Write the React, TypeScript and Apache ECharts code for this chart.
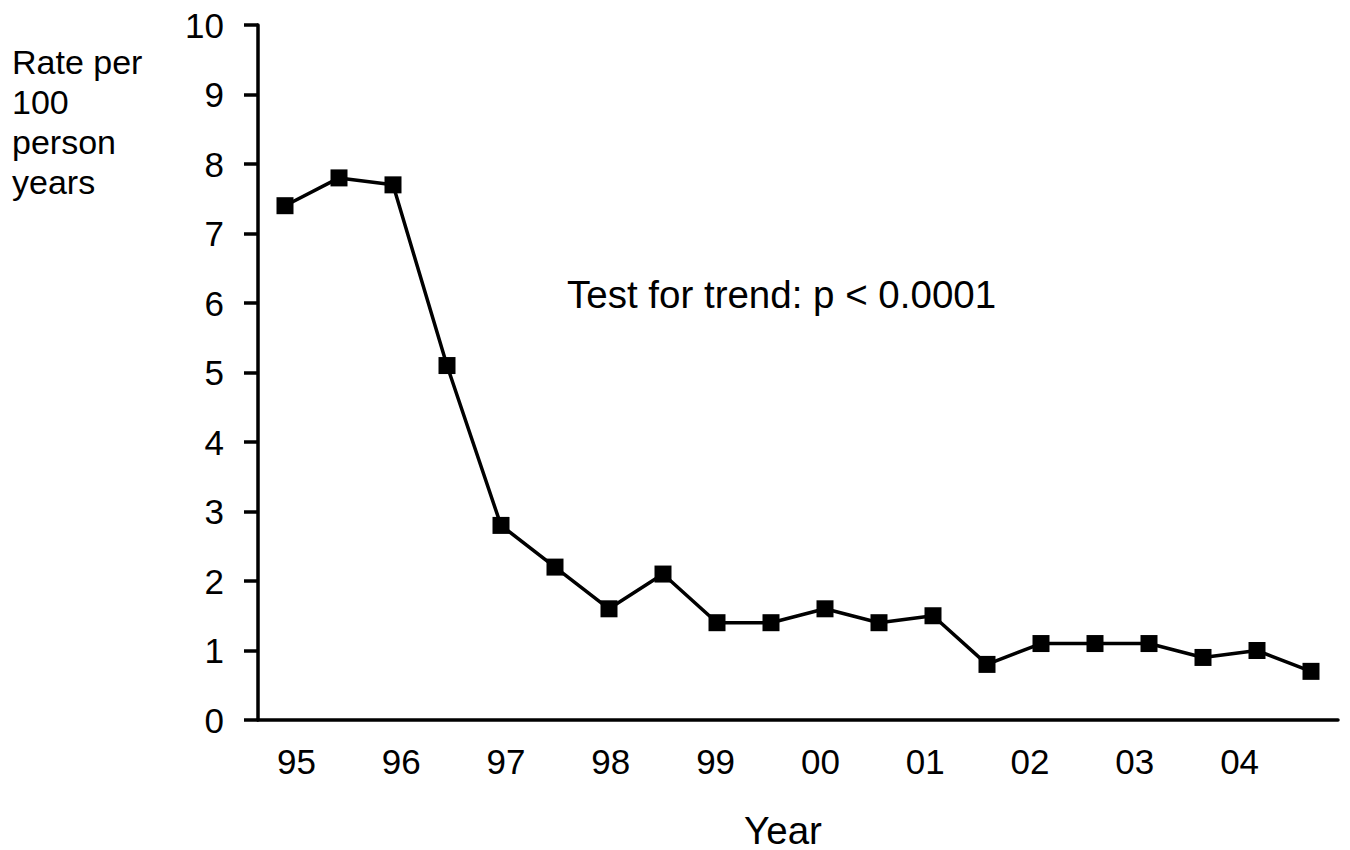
import React, { useEffect, useRef } from "react";
import * as echarts from "echarts";

const yearLabels = ["95", "96", "97", "98", "99", "00", "01", "02", "03", "04"];
const rates = [7.4, 7.8, 7.7, 5.1, 2.8, 2.2, 1.6, 2.1, 1.4, 1.4, 1.6, 1.4, 1.5, 0.8, 1.1, 1.1, 1.1, 0.9, 1.0, 0.7];
const yMin = 0;
const yMax = 10;
const yStep = 1;
const periodCount = 20;
const yTitle = "Rate per\n100\nperson\nyears";
const xTitle = "Year";
const note = "Test for trend: p < 0.0001";

const FONT = "'Liberation Sans', Arial, sans-serif";

export default function App() {
  const ref = useRef<HTMLDivElement>(null);
  useEffect(() => {
    if (!ref.current) return;
    const chart = echarts.init(ref.current, undefined, { renderer: "svg" });
    const points = rates.map((v, i) => [i + 0.5, v]);
    chart.setOption({
      animation: false,
      backgroundColor: "#ffffff",
      grid: [
        { left: 258, top: 25, width: 1080, height: 695, containLabel: false },
        { left: 244, top: 25, width: 1048, height: 695, containLabel: false },
      ],
      xAxis: [
        {
          type: "value",
          gridIndex: 0,
          min: 0,
          max: periodCount,
          axisLine: { show: true, lineStyle: { color: "#000", width: 3.5 } },
          axisTick: { show: false },
          axisLabel: { show: false },
          splitLine: { show: false },
        },
        {
          type: "category",
          gridIndex: 1,
          data: yearLabels,
          boundaryGap: true,
          axisLine: { show: false },
          axisTick: { show: false },
          axisLabel: { show: true, color: "#000", fontSize: 35, fontFamily: FONT, margin: 24 },
          splitLine: { show: false },
        },
      ],
      yAxis: [
        {
          type: "value",
          gridIndex: 0,
          min: yMin,
          max: yMax,
          interval: yStep,
          axisLine: { show: true, lineStyle: { color: "#000", width: 3.5 } },
          axisTick: { show: true, inside: false, length: 14, lineStyle: { color: "#000", width: 3.5 } },
          axisLabel: { color: "#000", fontSize: 35, fontFamily: FONT, margin: 34 },
          splitLine: { show: false },
        },
        {
          type: "value",
          gridIndex: 1,
          show: false,
          min: yMin,
          max: yMax,
        },
      ],
      series: [
        {
          type: "line",
          xAxisIndex: 0,
          yAxisIndex: 0,
          data: points,
          symbol: "rect",
          symbolSize: 17,
          showSymbol: true,
          lineStyle: { color: "#000", width: 3.5 },
          itemStyle: { color: "#000" },
        },
      ],
      graphic: [
        {
          type: "text",
          left: 12,
          top: 42,
          style: { text: yTitle, font: `34px ${FONT}`, fill: "#000", lineHeight: 40 },
        },
        {
          type: "text",
          x: 567,
          y: 294,
          style: { text: note, font: `38.5px ${FONT}`, fill: "#000", textAlign: "left", textVerticalAlign: "middle" },
        },
        {
          type: "text",
          x: 783,
          y: 830,
          style: { text: xTitle, font: `38.5px ${FONT}`, fill: "#000", textAlign: "center", textVerticalAlign: "middle" },
        },
      ],
    });
    return () => chart.dispose();
  }, []);
  return <div ref={ref} style={{ position: "fixed", left: 0, top: 0, width: 1350, height: 850 }} />;
}
